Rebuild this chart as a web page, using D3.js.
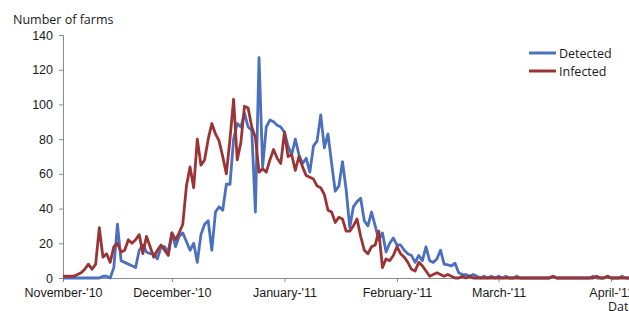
<!DOCTYPE html>
<html>
<head>
<meta charset="utf-8">
<script src="https://cdn.jsdelivr.net/npm/d3@7"></script>
<style>
  body { margin: 0; background: #fff; }
  svg { display: block; font-family: "Open Sans", Lato, sans-serif; }
</style>
</head>
<body>
<div id="chart"></div>
<script>
// -------------------------
// DATA (daily counts from 1 Nov 2010)
// -------------------------
const startDate = new Date(2010, 10, 1);

const detected = [
  0, 0, 0, 0, 0, 0, 0, 0, 0, 0, 0, 1, 1, 0, 6, 31, 10, 9, 8, 7,
  6, 16, 19, 15, 14, 14, 11, 18, 18, 15, 26, 18, 24, 26, 21, 16, 20, 9, 25, 31,
  33, 16, 38, 41, 39, 54, 54, 80, 89, 87, 95, 87, 85, 38, 127, 64, 87, 91, 90, 88,
  87, 84, 76, 71, 80, 71, 66, 69, 61, 76, 79, 94, 75, 83, 66, 50, 53, 67, 51, 29,
  41, 44, 46, 33, 30, 38, 30, 22, 26, 15, 20, 23, 19, 19, 16, 14, 13, 9, 13, 10,
  18, 10, 9, 11, 16, 8, 7.5, 7, 8.5, 3, 2, 2, 1, 2, 1, 0, 1, 0, 1, 0,
  1, 0, 1, 0, 0, 1, 0, 0, 0, 0, 0, 0, 0, 0, 0, 1, 0, 0, 0, 0,
  0, 0, 0, 0, 0, 0, 1, 0, 0, 0, 1, 0, 0, 0, 1, 0, 0
];

const infected = [
  1, 1, 1, 1, 2, 3, 5, 8, 5, 8, 29, 12, 14, 9, 18, 20, 15, 16, 22, 20,
  22, 25, 14, 24, 18, 12, 16, 19, 16, 13, 26, 22, 26, 31, 53, 64, 52, 80, 65, 68,
  80, 89, 83, 79, 70, 60, 80, 103, 68, 78, 99, 98, 87, 81, 61, 63, 61, 68, 74, 69,
  66, 84, 70, 71, 62, 70, 64, 59, 58, 57, 53, 52, 48, 39, 38, 32, 35, 34, 27, 27,
  30, 34, 24, 16, 14, 18, 19, 27, 6, 11, 10, 13, 18, 14, 12, 9, 5, 4, 9, 7,
  4, 1, 2, 3, 2, 1, 2, 1, 0, 0, 1, 0, 1, 0, 0, 0, 0, 0, 0, 0,
  0, 0, 0, 0, 0, 0, 0, 0, 0, 0, 0, 0, 0, 0, 0, 1, 0, 0, 0, 0,
  0, 0, 0, 0, 0, 0, 0, 1, 0, 0, 1, 0, 0, 0, 0, 0, 0
];

const seriesNames = ["Detected", "Infected"];
const seriesColors = ["#4a70bf", "#9b3535"];

const monthTicks = [
  new Date(2010, 10, 1), new Date(2010, 11, 1), new Date(2011, 0, 1),
  new Date(2011, 1, 1), new Date(2011, 2, 1), new Date(2011, 3, 1)
];
const monthLabels = ["November-'10", "December-'10", "January-'11", "February-'11", "March-'11", "April-'11"];
const yTicks = [0, 20, 40, 60, 80, 100, 120, 140];

// -------------------------
// LAYOUT
// -------------------------
const W = 629, H = 311;
const x0 = 63, yTop = 35, yBottom = 278;
const pxPerDay = 3.63;
const endDate = d3.timeDay.offset(startDate, 156);

const x = d3.scaleTime()
  .domain([startDate, endDate])
  .range([x0, x0 + 156 * pxPerDay]);
const y = d3.scaleLinear().domain([0, 140]).range([yBottom, yTop]);

const svg = d3.select("#chart").append("svg").attr("width", W).attr("height", H);

// y axis
const yAxis = svg.append("g")
  .attr("transform", `translate(${x0},0)`)
  .call(d3.axisLeft(y).tickValues(yTicks).tickSize(4).tickPadding(6));
yAxis.select(".domain").attr("stroke", "#8c8c8c");
yAxis.selectAll(".tick line").attr("stroke", "#8c8c8c");
yAxis.selectAll(".tick text").attr("font-size", 12.5).attr("fill", "#1a1a1a");

// x axis
const xAxis = svg.append("g")
  .attr("transform", `translate(0,${yBottom})`)
  .call(d3.axisBottom(x).tickValues(monthTicks)
    .tickFormat((d, i) => monthLabels[i]).tickSize(4).tickPadding(6));
xAxis.select(".domain").attr("stroke", "#8c8c8c");
xAxis.selectAll(".tick line").attr("stroke", "#8c8c8c");
xAxis.selectAll(".tick text").attr("font-size", 12.5).attr("fill", "#1a1a1a");

// titles
svg.append("text").attr("x", 13).attr("y", 24)
  .attr("font-size", 12.5).attr("fill", "#1a1a1a").text("Number of farms");
svg.append("text").attr("x", 608).attr("y", 311)
  .attr("font-size", 12.5).attr("fill", "#1a1a1a").text("Date");

// lines
const line = d3.line()
  .x((d, i) => x(d3.timeDay.offset(startDate, i)))
  .y(d => y(d));

[detected, infected].forEach((s, k) => {
  svg.append("path").datum(s)
    .attr("fill", "none")
    .attr("stroke", seriesColors[k])
    .attr("stroke-width", 2.8)
    .attr("stroke-linejoin", "round")
    .attr("d", line);
});

// legend
const legend = svg.append("g");
seriesNames.forEach((n, k) => {
  const ly = 53 + k * 18;
  legend.append("line").attr("x1", 529).attr("x2", 556).attr("y1", ly).attr("y2", ly)
    .attr("stroke", seriesColors[k]).attr("stroke-width", 3);
  legend.append("text").attr("x", 559).attr("y", ly + 4.5)
    .attr("font-size", 12.5).attr("fill", "#1a1a1a").text(n);
});
</script>
</body>
</html>
